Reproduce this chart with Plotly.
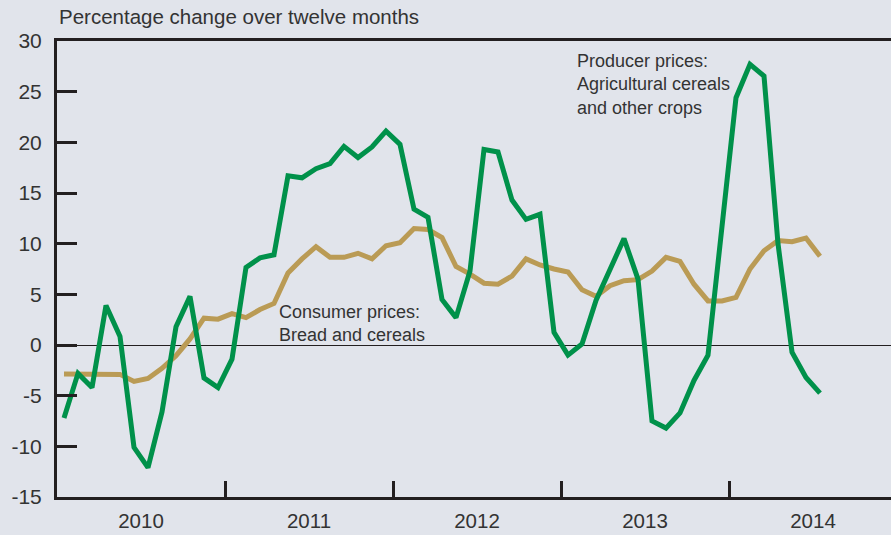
import plotly.graph_objects as go

# Months: Jan 2010 .. Jul 2014 (55 monthly observations)
years = [2010, 2011, 2012, 2013, 2014]
n_months = 55
month_x = [2010 + (i + 0.5) / 12 for i in range(n_months)]

producer = [-7.2, -2.8, -4.2, 3.9, 0.85, -10.1, -12.1, -6.6, 1.8, 4.8, -3.25, -4.2,
            -1.4, 7.65, 8.6, 8.9, 16.7, 16.5, 17.4, 17.9, 19.6, 18.5, 19.55, 21.1,
            19.8, 13.4, 12.6, 4.5, 2.7, 7.3, 19.3, 19.05, 14.3, 12.4, 12.9, 1.25,
            -1.0, 0.1, 4.4, 7.5, 10.5, 6.5, -7.5, -8.2, -6.7, -3.5, -1.0, 11.7,
            24.4, 27.7, 26.55, 10.0, -0.7, -3.2, -4.75]

consumer = [-2.85, -2.85, -2.9, -2.8, -2.9, -3.6, -3.3, -2.3, -1.05, 0.6, 2.65, 2.55,
            3.1, 2.7, 3.5, 4.1, 7.1, 8.5, 9.7, 8.65, 8.65, 9.05, 8.5, 9.8,
            10.1, 11.5, 11.4, 10.6, 7.75, 7.0, 6.1, 6.0, 6.8, 8.5, 7.9, 7.5,
            7.2, 5.45, 4.8, 5.85, 6.35, 6.45, 7.3, 8.65, 8.25, 6.0, 4.35, 4.35,
            4.7, 7.5, 9.3, 10.3, 10.2, 10.55, 8.75]

y_ticks = [-15, -10, -5, 0, 5, 10, 15, 20, 25, 30]
y_tick_text = ["-15", "-10", "-5", "0", "5", "10", "15", "20", "25", "30"]
year_labels = [str(y) for y in years]

GREEN = "#00914A"
TAN = "#BA9B55"
BG = "#E1E4EB"
AXIS = "#231F20"
TEXT = "#333333"
FONT = "Liberation Sans, Arial, sans-serif"

fig = go.Figure()
fig.add_trace(go.Scatter(x=month_x, y=consumer, mode="lines",
                         line=dict(color=TAN, width=5), hoverinfo="skip"))
fig.add_trace(go.Scatter(x=month_x, y=producer, mode="lines",
                         line=dict(color=GREEN, width=5), hoverinfo="skip"))

fig.update_layout(
    width=891, height=535,
    margin=dict(l=57, r=0, t=41, b=38, autoexpand=False),
    paper_bgcolor=BG, plot_bgcolor=BG,
    showlegend=False,
    font=dict(family=FONT, color=TEXT, size=18),
)

fig.update_xaxes(
    range=[2010, 2010 + 834 / 168],
    automargin=False,
    showgrid=False, zeroline=False,
    showline=True, linecolor=AXIS, linewidth=3, mirror=True,
    tickmode="array",
    tickvals=[y + 0.5 for y in years], ticktext=year_labels,
    ticks="", ticklabelstandoff=3,
    tickfont=dict(size=20.5, color=TEXT),
    minor=dict(tickmode="array", tickvals=years[1:], ticks="inside",
               ticklen=16, tickwidth=3, tickcolor=AXIS, showgrid=False),
)

fig.update_yaxes(
    range=[-15, 30],
    automargin=False,
    showgrid=False,
    zeroline=True, zerolinecolor=AXIS, zerolinewidth=1,
    showline=True, linecolor=AXIS, linewidth=3,
    tickmode="array", tickvals=y_ticks, ticktext=y_tick_text,
    ticks="inside", ticklen=20, tickwidth=3, tickcolor=AXIS,
    ticklabelstandoff=8,
    tickfont=dict(size=21, color=TEXT),
)

fig.add_annotation(text="Percentage change over twelve months",
                   xref="paper", yref="paper", x=0, y=1,
                   xanchor="left", yanchor="bottom", yshift=11,
                   showarrow=False, font=dict(size=20.5, color=TEXT))

fig.add_annotation(text="Producer prices:<br>Agricultural cereals<br>and other crops",
                   x=2010 + (575 - 57) / 168, y=29.2,
                   xanchor="left", yanchor="top", align="left",
                   showarrow=False, font=dict(size=18, color=TEXT))

fig.add_annotation(text="Consumer prices:<br>Bread and cereals",
                   x=2010 + (277 - 57) / 168, y=4.4,
                   xanchor="left", yanchor="top", align="left",
                   showarrow=False, font=dict(size=18, color=TEXT))

fig.write_html("out.html", config={"displayModeBar": False},
               post_script="document.body.style.margin='0';document.body.style.overflow='hidden';")
